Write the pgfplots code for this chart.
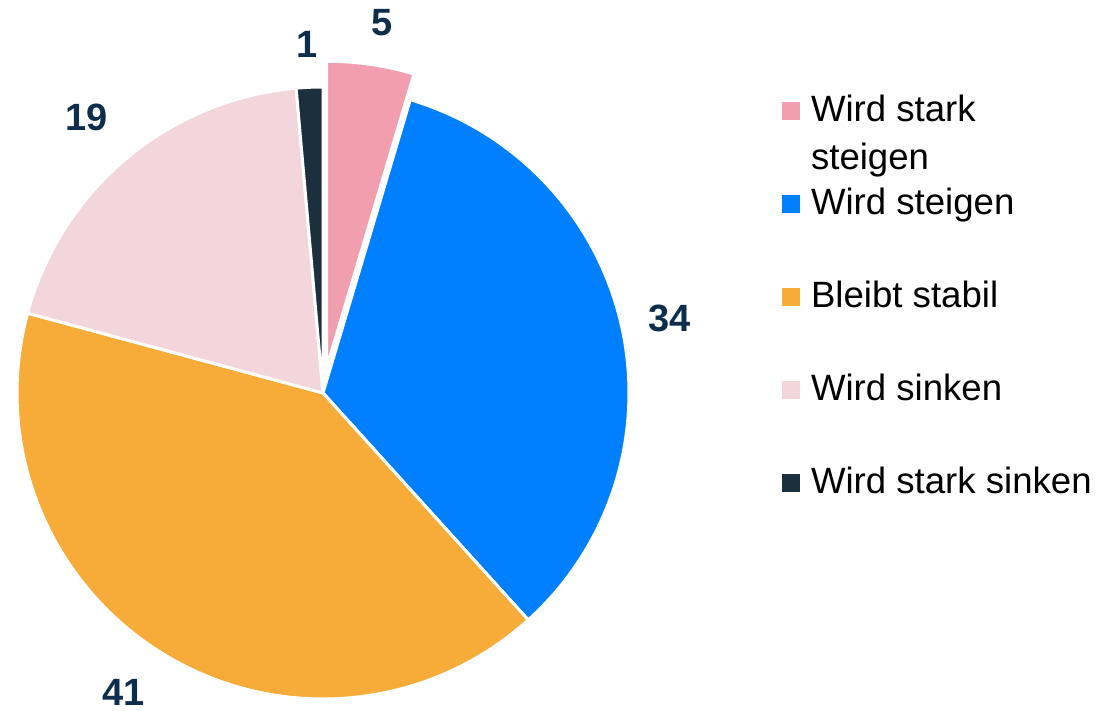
\documentclass[border=0pt]{standalone}
\usepackage{pgfplots}
\usepackage{pgfplotstable}
\pgfplotsset{compat=1.18}
\usepackage{fontspec}
\setmainfont{Liberation Sans}
\definecolor{cA}{HTML}{F19FAE}
\definecolor{cB}{HTML}{0080FF}
\definecolor{cC}{HTML}{F7AB38}
\definecolor{cD}{HTML}{F2D6DC}
\definecolor{cE}{HTML}{1B2F3D}
\definecolor{lab}{HTML}{0D2D4C}

\pgfplotstableread{
label value
A 4.6
B 33.7
C 40.9
D 19.4
E 1.4
}\piedata

\begin{document}
\begin{tikzpicture}
\pgfplotstablegetelem{0}{value}\of\piedata \let\vA\pgfplotsretval
\pgfplotstablegetelem{1}{value}\of\piedata \let\vB\pgfplotsretval
\pgfplotstablegetelem{2}{value}\of\piedata \let\vC\pgfplotsretval
\pgfplotstablegetelem{3}{value}\of\piedata \let\vD\pgfplotsretval
\pgfplotstablegetelem{4}{value}\of\piedata \let\vE\pgfplotsretval
\pgfmathsetmacro\aA{90}
\pgfmathsetmacro\aB{\aA-3.6*\vA}
\pgfmathsetmacro\aC{\aB-3.6*\vB}
\pgfmathsetmacro\aD{\aC-3.6*\vC}
\pgfmathsetmacro\aE{\aD-3.6*\vD}
\pgfmathsetmacro\aF{\aE-3.6*\vE}
\pgfmathsetmacro\cx{323}
\pgfmathsetmacro\cy{318}
\pgfmathsetmacro\R{306}
\pgfmathsetmacro\ex{\cx+26*cos((\aA+\aB)/2)}
\pgfmathsetmacro\ey{\cy+26*sin((\aA+\aB)/2)}
\begin{axis}[
  width=549.5pt, height=355.5pt, scale only axis,
  xmin=0, xmax=1099, ymin=0, ymax=711,
  hide axis, clip=false,
  legend cell align=left,
  legend style={at={(0.7116,0.865)}, anchor=north west, draw=none, fill=none,
    inner sep=0pt, outer sep=0pt, row sep=29.5pt, column sep=5.5pt,
    font=\fontsize{18.3}{24}\selectfont,
    nodes={inner sep=0pt, text height=13pt, text depth=4pt}},
  legend image code/.code={\fill[#1, draw=none] (0pt,-3.75pt) rectangle (9pt,5.25pt);},
  every axis plot/.append style={draw=white, line width=1.5pt, line join=round, variable=\t, samples=90},
]
\path (rel axis cs:0,0) rectangle (rel axis cs:1,1);
\addplot[fill=cA, domain=\aB:\aA] ({\ex+\R*cos(t)}, {\ey+\R*sin(t)}) -- (axis cs:\ex,\ey) -- cycle;
\addlegendentry{\begin{tabular}[t]{@{}l@{}}Wird stark\\steigen\end{tabular}}
\addplot[fill=cB, domain=\aC:\aB] ({\cx+\R*cos(t)}, {\cy+\R*sin(t)}) -- (axis cs:\cx,\cy) -- cycle;
\addlegendentry{Wird steigen}
\addplot[fill=cC, domain=\aD:\aC] ({\cx+\R*cos(t)}, {\cy+\R*sin(t)}) -- (axis cs:\cx,\cy) -- cycle;
\addlegendentry{Bleibt stabil}
\addplot[fill=cD, domain=\aE:\aD] ({\cx+\R*cos(t)}, {\cy+\R*sin(t)}) -- (axis cs:\cx,\cy) -- cycle;
\addlegendentry{Wird sinken}
\addplot[fill=cE, domain=\aF:\aE, samples=10] ({\cx+\R*cos(t)}, {\cy+\R*sin(t)}) -- (axis cs:\cx,\cy) -- cycle;
\addlegendentry{Wird stark sinken}
\begin{scope}[every node/.style={font=\bfseries\fontsize{19}{21}\selectfont, text=lab, inner sep=0pt}]
\node at (axis cs:382,688) {5};
\node at (axis cs:307,667) {1};
\node at (axis cs:670,393) {34};
\node at (axis cs:87,594) {19};
\node at (axis cs:124,19) {41};
\end{scope}
\end{axis}
\end{tikzpicture}
\end{document}
